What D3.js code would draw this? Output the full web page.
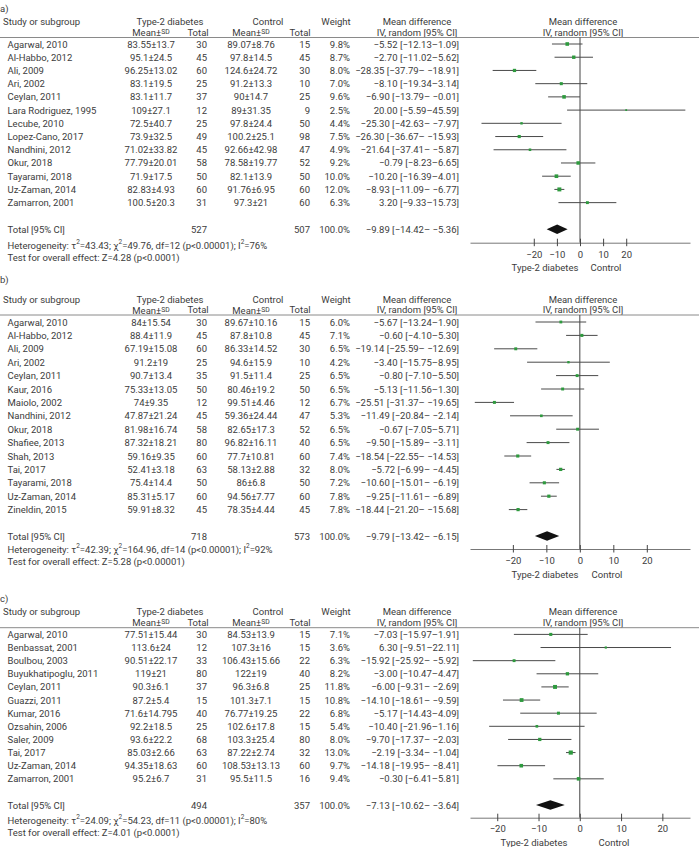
<!DOCTYPE html>
<html><head><meta charset="utf-8">
<script src="https://cdn.jsdelivr.net/npm/d3@7"></script>
<style>
body{margin:0;background:#fff}
text{font-family:Roboto,"Noto Sans",sans-serif;fill:#3c3c3c;font-size:9.5px}
</style>
</head><body>
<svg id="chart" width="699" height="847"></svg>
<script>
// ---------------- DATA ----------------
// Panel a
const studiesA = ["Agarwal, 2010","Al-Habbo, 2012","Ali, 2009","Ari, 2002","Ceylan, 2011","Lara Rodriguez, 1995","Lecube, 2010","Lopez-Cano, 2017","Nandhini, 2012","Okur, 2018","Tayarami, 2018","Uz-Zaman, 2014","Zamarron, 2001"];
const t2dMeanA = ["83.55±13.7","95.1±24.5","96.25±13.02","83.1±19.5","83.1±11.7","109±27.1","72.5±40.7","73.9±32.5","71.02±33.82","77.79±20.01","71.9±17.5","82.83±4.93","100.5±20.3"];
const t2dTotalA = [30,45,60,25,37,12,25,49,45,58,50,60,31];
const ctlMeanA = ["89.07±8.76","97.8±14.5","124.6±24.72","91.2±13.3","90±14.7","89±31.35","97.8±24.4","100.2±25.1","92.66±42.98","78.58±19.77","82.1±13.9","91.76±6.95","97.3±21"];
const ctlTotalA = [15,45,30,10,25,9,50,98,47,52,50,60,60];
const weightA = [9.8,8.7,8.0,7.0,9.6,2.5,4.4,7.5,4.9,9.2,10.0,12.0,6.3];
const mdA = [-5.52,-2.70,-28.35,-8.10,-6.90,20.00,-25.30,-26.30,-21.64,-0.79,-10.20,-8.93,3.20];
const loA = [-12.13,-11.02,-37.79,-19.34,-13.79,-5.59,-42.63,-36.67,-37.41,-8.23,-16.39,-11.09,-9.33];
const hiA = [1.09,5.62,-18.91,3.14,-0.01,45.59,-7.97,-15.93,-5.87,6.65,-4.01,-6.77,15.73];
const mdTextA = ["−5.52 [−12.13–1.09]","−2.70 [−11.02–5.62]","−28.35 [−37.79– −18.91]","−8.10 [−19.34–3.14]","−6.90 [−13.79– −0.01]","20.00 [−5.59–45.59]","−25.30 [−42.63– −7.97]","−26.30 [−36.67– −15.93]","−21.64 [−37.41– −5.87]","−0.79 [−8.23–6.65]","−10.20 [−16.39–4.01]","−8.93 [−11.09– −6.77]","3.20 [−9.33–15.73]"];
const totalA = {t2d:527, ctl:507, md:-9.89, lo:-14.42, hi:-5.36, text:"−9.89 [−14.42– −5.36]"};
const hetA = {tau2:"43.43", chi2:"49.76", df:12, p:"p<0.00001", i2:"76%", z:"4.28", pz:"p<0.0001"};

// Panel b
const studiesB = ["Agarwal, 2010","Al-Habbo, 2012","Ali, 2009","Ari, 2002","Ceylan, 2011","Kaur, 2016","Maiolo, 2002","Nandhini, 2012","Okur, 2018","Shafiee, 2013","Shah, 2013","Tai, 2017","Tayarami, 2018","Uz-Zaman, 2014","Zineldin, 2015"];
const t2dMeanB = ["84±15.54","88.4±11.9","67.19±15.08","91.2±19","90.7±13.4","75.33±13.05","74±9.35","47.87±21.24","81.98±16.74","87.32±18.21","59.16±9.35","52.41±3.18","75.4±14.4","85.31±5.17","59.91±8.32"];
const t2dTotalB = [30,45,60,25,35,50,12,45,58,80,60,63,50,60,45];
const ctlMeanB = ["89.67±10.16","87.8±10.8","86.33±14.52","94.6±15.9","91.5±11.4","80.46±19.2","99.51±4.46","59.36±24.44","82.65±17.3","96.82±16.11","77.7±10.81","58.13±2.88","86±6.8","94.56±7.77","78.35±4.44"];
const ctlTotalB = [15,45,30,10,25,50,12,47,52,40,60,32,50,60,45];
const weightB = [6.0,7.1,6.5,4.2,6.5,6.5,6.7,5.3,6.5,6.5,7.4,8.0,7.2,7.8,7.8];
const mdB = [-5.67,0.60,-19.14,-3.40,-0.80,-5.13,-25.51,-11.49,-0.67,-9.50,-18.54,-5.72,-10.60,-9.25,-18.44];
const loB = [-13.24,-4.10,-25.59,-15.75,-7.10,-11.56,-31.37,-20.84,-7.05,-15.89,-22.55,-6.99,-15.01,-11.61,-21.20];
const hiB = [1.90,5.30,-12.69,8.95,5.50,1.30,-19.65,-2.14,5.71,-3.11,-14.53,-4.45,-6.19,-6.89,-15.68];
const mdTextB = ["−5.67 [−13.24–1.90]","−0.60 [−4.10–5.30]","−19.14 [−25.59– −12.69]","−3.40 [−15.75–8.95]","−0.80 [−7.10–5.50]","−5.13 [−11.56–1.30]","−25.51 [−31.37– −19.65]","−11.49 [−20.84– −2.14]","−0.67 [−7.05–5.71]","−9.50 [−15.89– −3.11]","−18.54 [−22.55– −14.53]","−5.72 [−6.99– −4.45]","−10.60 [−15.01– −6.19]","−9.25 [−11.61– −6.89]","−18.44 [−21.20– −15.68]"];
const totalB = {t2d:718, ctl:573, md:-9.79, lo:-13.42, hi:-6.15, text:"−9.79 [−13.42– −6.15]"};
const hetB = {tau2:"42.39", chi2:"164.96", df:14, p:"p<0.00001", i2:"92%", z:"5.28", pz:"p<0.00001"};

// Panel c
const studiesC = ["Agarwal, 2010","Benbassat, 2001","Boulbou, 2003","Buyukhatipoglu, 2011","Ceylan, 2011","Guazzi, 2011","Kumar, 2016","Ozsahin, 2006","Saler, 2009","Tai, 2017","Uz-Zaman, 2014","Zamarron, 2001"];
const t2dMeanC = ["77.51±15.44","113.6±24","90.51±22.17","119±21","90.3±6.1","87.2±5.4","71.6±14.795","92.2±18.5","93.6±22.2","85.03±2.66","94.35±18.63","95.2±6.7"];
const t2dTotalC = [30,12,33,80,37,15,40,25,68,63,60,31];
const ctlMeanC = ["84.53±13.9","107.3±16","106.43±15.66","122±19","96.3±6.8","101.3±7.1","76.77±19.25","102.6±17.8","103.3±25.4","87.22±2.74","108.53±13.13","95.5±11.5"];
const ctlTotalC = [15,15,22,40,25,15,22,15,80,32,60,16];
const weightC = [7.1,3.6,6.3,8.2,11.8,10.8,6.8,5.4,8.0,13.0,9.7,9.4];
const mdC = [-7.03,6.30,-15.92,-3.00,-6.00,-14.10,-5.17,-10.40,-9.70,-2.19,-14.18,-0.30];
const loC = [-15.97,-9.51,-25.92,-10.47,-9.31,-18.61,-14.43,-21.96,-17.37,-3.34,-19.95,-6.41];
const hiC = [1.91,22.11,-5.92,4.47,-2.69,-9.59,4.09,1.16,-2.03,-1.04,-8.41,5.81];
const mdTextC = ["−7.03 [−15.97–1.91]","6.30 [−9.51–22.11]","−15.92 [−25.92– −5.92]","−3.00 [−10.47–4.47]","−6.00 [−9.31– −2.69]","−14.10 [−18.61– −9.59]","−5.17 [−14.43–4.09]","−10.40 [−21.96–1.16]","−9.70 [−17.37– −2.03]","−2.19 [−3.34– −1.04]","−14.18 [−19.95– −8.41]","−0.30 [−6.41–5.81]"];
const totalC = {t2d:494, ctl:357, md:-7.13, lo:-10.62, hi:-3.64, text:"−7.13 [−10.62– −3.64]"};
const hetC = {tau2:"24.09", chi2:"54.23", df:11, p:"p<0.00001", i2:"80%", z:"4.01", pz:"p<0.0001"};

const tickValues = [-20,-10,0,10,20];
const headerLabels = {study:"Study or subgroup", group1:"Type-2 diabetes", group2:"Control", weight:"Weight", md1:"Mean difference", md2:"IV, random [95% CI]", total:"Total [95% CI]"};

// ---------------- LAYOUT ----------------
const svg = d3.select("#chart");
const GREEN = "#2e9a3e";

const panels = [
  {label:"a)", labelY:8, rule:37.5, row0:44, step:13.22, totalY:229.3, axisY:242.7, hetY:245, testY:257,
   domain:[-47.6,47.6], leftLab:545, rightLab:606, labY:267,
   studies:studiesA, t2dMean:t2dMeanA, t2dTotal:t2dTotalA, ctlMean:ctlMeanA, ctlTotal:ctlTotalA, weight:weightA, md:mdA, lo:loA, hi:hiA, mdText:mdTextA, total:totalA, het:hetA},
  {label:"b)", labelY:279.5, rule:315, row0:322, step:13.4, totalY:536, axisY:549, hetY:549, testY:561,
   domain:[-32.8,32.9], leftLab:545, rightLab:607, labY:574.5,
   studies:studiesB, t2dMean:t2dMeanB, t2dTotal:t2dTotalB, ctlMean:ctlMeanB, ctlTotal:ctlTotalB, weight:weightB, md:mdB, lo:loB, hi:hiB, mdText:mdTextB, total:totalB, het:hetB},
  {label:"c)", labelY:598, rule:627.7, row0:634.4, step:13.13, totalY:805, axisY:817.7, hetY:820, testY:832,
   domain:[-26.6,26.7], leftLab:534, rightLab:614, labY:842,
   studies:studiesC, t2dMean:t2dMeanC, t2dTotal:t2dTotalC, ctlMean:ctlMeanC, ctlTotal:ctlTotalC, weight:weightC, md:mdC, lo:loC, hi:hiC, mdText:mdTextC, total:totalC, het:hetC}
];

function txt(g, x, y, s, anchor) {
  return g.append("text").attr("x", x).attr("y", y).attr("dominant-baseline","central")
    .attr("text-anchor", anchor || "start").text(s);
}
function meanSD(g, x, y) {
  const t = g.append("text").attr("x", x).attr("y", y).attr("dominant-baseline","central").attr("text-anchor","middle");
  t.append("tspan").text("Mean±");
  t.append("tspan").style("font-size","6.8px").text("SD");
}

panels.forEach(P => {
  const g = svg.append("g");
  const x = d3.scaleLinear().domain(P.domain).range([470, 690]);
  const h1 = P.rule - 16, h2 = P.rule - 5.5;

  txt(g, 0, P.labelY, P.label);
  txt(g, 3, h1, headerLabels.study);
  txt(g, 170, h1, headerLabels.group1, "middle");
  txt(g, 268, h1, headerLabels.group2, "middle");
  txt(g, 336, h1, headerLabels.weight, "middle");
  txt(g, 417, h1, headerLabels.md1, "middle");
  txt(g, 417, h2, headerLabels.md2, "middle");
  txt(g, 583, h1, headerLabels.md1, "middle");
  txt(g, 583, h2, headerLabels.md2, "middle");
  meanSD(g, 151, h2);
  txt(g, 198, h2, "Total", "middle");
  meanSD(g, 251, h2);
  txt(g, 300, h2, "Total", "middle");

  g.append("line").attr("x1",0).attr("x2",699).attr("y1",P.rule).attr("y2",P.rule)
    .attr("stroke","#8a8a8a").attr("stroke-width",1);

  // zero line
  g.append("line").attr("x1",x(0)).attr("x2",x(0)).attr("y1",P.rule).attr("y2",P.axisY)
    .attr("stroke","#444").attr("stroke-width",1);

  P.studies.forEach((s, i) => {
    const y = P.row0 + i * P.step;
    txt(g, 7.5, y, s);
    txt(g, 151, y, P.t2dMean[i], "middle");
    txt(g, 207, y, P.t2dTotal[i], "end");
    txt(g, 251, y, P.ctlMean[i], "middle");
    txt(g, 310, y, P.ctlTotal[i], "end");
    txt(g, 350, y, P.weight[i].toFixed(1) + "%", "end");
    txt(g, 459, y, P.mdText[i], "end");
    g.append("line").attr("x1", x(P.lo[i])).attr("x2", x(P.hi[i])).attr("y1", y).attr("y2", y)
      .attr("stroke","#4a4a4a").attr("stroke-width",1);
    const sz = 1.15 * Math.sqrt(P.weight[i]);
    g.append("rect").attr("x", x(P.md[i]) - sz/2).attr("y", y - sz/2).attr("width", sz).attr("height", sz)
      .attr("fill", GREEN);
  });

  // total row
  const ty = P.totalY;
  txt(g, 7.5, ty, headerLabels.total);
  txt(g, 207, ty, P.total.t2d, "end");
  txt(g, 310, ty, P.total.ctl, "end");
  txt(g, 350, ty, "100.0%", "end");
  txt(g, 459, ty, P.total.text, "end");
  const dh = 4.8;
  g.append("path").attr("d", `M${x(P.total.lo)},${ty} L${x(P.total.md)},${ty-dh} L${x(P.total.hi)},${ty} L${x(P.total.md)},${ty+dh} Z`)
    .attr("fill","#111");

  // heterogeneity
  const het = g.append("text").attr("x", 7.5).attr("y", P.hetY).attr("dominant-baseline","central");
  het.append("tspan").text("Heterogeneity: τ");
  het.append("tspan").attr("dy",-3.5).style("font-size","6.5px").text("2");
  het.append("tspan").attr("dy",3.5).text(`=${P.het.tau2}; χ`);
  het.append("tspan").attr("dy",-3.5).style("font-size","6.5px").text("2");
  het.append("tspan").attr("dy",3.5).text(`=${P.het.chi2}, df=${P.het.df} (${P.het.p}); I`);
  het.append("tspan").attr("dy",-3.5).style("font-size","6.5px").text("2");
  het.append("tspan").attr("dy",3.5).text(`=${P.het.i2}`);
  txt(g, 7.5, P.testY, `Test for overall effect: Z=${P.het.z} (${P.het.pz})`);

  // axis
  const ax = g.append("g").attr("transform", `translate(0,${P.axisY})`)
    .call(d3.axisBottom(x).tickValues(tickValues).tickSizeOuter(0).tickFormat(d3.format("d")));
  ax.select(".domain").attr("stroke","#777").attr("stroke-width",1);
  ax.selectAll(".tick line").attr("y1",-4).attr("y2",3.5).attr("stroke","#444");
  ax.selectAll(".tick text").attr("y", P.axisY > 800 ? 10.5 : 11.5).attr("dy",null)
    .attr("dominant-baseline","central").style("font-size","9.5px").style("font-family","Roboto,sans-serif").attr("fill","#3c3c3c");

  txt(g, P.leftLab, P.labY, headerLabels.group1, "middle");
  txt(g, P.rightLab, P.labY, headerLabels.group2, "middle");
});
</script>
</body></html>
